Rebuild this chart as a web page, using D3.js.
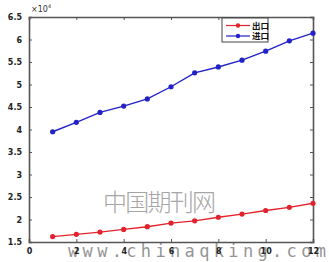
<!DOCTYPE html>
<html>
<head>
<meta charset="utf-8">
<script src="https://cdn.jsdelivr.net/npm/d3@7"></script>
<style>
  body { margin: 0; background: #fff; }
  svg { display: block; }
</style>
</head>
<body>
<div id="chart"></div>
<script>
const years = [1, 2, 3, 4, 5, 6, 7, 8, 9, 10, 11, 12];
const redValues = [1.62, 1.67, 1.72, 1.78, 1.84, 1.92, 1.97, 2.05, 2.12, 2.20, 2.27, 2.36];
const blueValues = [3.95, 4.16, 4.38, 4.52, 4.68, 4.95, 5.26, 5.39, 5.54, 5.74, 5.97, 6.14];
const seriesNames = ["出口", "进口"];
const xTicks = [0, 2, 4, 6, 8, 10, 12];
const yTicks = [1.5, 2, 2.5, 3, 3.5, 4, 4.5, 5, 5.5, 6, 6.5];

const width = 329, height = 262;
const margin = {top: 17, right: 16, bottom: 20, left: 29};

const svg = d3.select("#chart")
    .append("svg")
    .attr("width", width)
    .attr("height", height);

const x = d3.scaleLinear().domain([0, 12]).range([margin.left, width - margin.right]);
const y = d3.scaleLinear().domain([1.5, 6.5]).range([height - margin.bottom, margin.top]);

const axisColor = "#555";
const tickFont = "bold 8px 'DejaVu Sans', sans-serif";

// watermark texts (drawn first, behind the chart)
svg.append("text")
    .attr("x", 103).attr("y", 211)
    .style("font", "24px 'Noto Sans CJK SC', sans-serif")
    .style("font-weight", 300)
    .attr("fill", "#a5a5a5")
    .attr("textLength", 113)
    .text("中国期刊网");

svg.append("text")
    .attr("x", 68).attr("y", 257)
    .style("font", "17px 'DejaVu Sans Mono', monospace")
    .attr("fill", "#959595")
    .attr("textLength", 258)
    .text("www.chinaqking.com");

// axes, ticks pointing inward like matlab
const bottomAxis = svg.append("g")
    .attr("transform", `translate(0,${y(1.5)})`)
    .call(d3.axisBottom(x).tickValues(xTicks).tickSize(-3).tickPadding(6));
const topAxis = svg.append("g")
    .attr("transform", `translate(0,${y(6.5)})`)
    .call(d3.axisTop(x).tickValues(xTicks).tickSize(-3).tickFormat(""));
const leftAxis = svg.append("g")
    .attr("transform", `translate(${x(0)},0)`)
    .call(d3.axisLeft(y).tickValues(yTicks).tickSize(-3).tickPadding(7).tickFormat(d3.format("")));
const rightAxis = svg.append("g")
    .attr("transform", `translate(${x(12)},0)`)
    .call(d3.axisRight(y).tickValues(yTicks).tickSize(-3).tickFormat(""));

[bottomAxis, topAxis, leftAxis, rightAxis].forEach(a => {
    a.select(".domain").attr("stroke", axisColor).attr("stroke-width", 1.6);
    a.selectAll(".tick line").attr("stroke", axisColor);
    a.selectAll("text").style("font", tickFont).attr("fill", "#222");
});

// exponent label
const expLabel = svg.append("text")
    .attr("x", x(0) + 2)
    .attr("y", margin.top - 5)
    .style("font", "8px 'DejaVu Sans', sans-serif")
    .attr("fill", "#333");
expLabel.append("tspan").text("×10");
expLabel.append("tspan").attr("dy", -4).style("font-size", "5px").text("4");

const series = [
    {name: seriesNames[0], values: redValues, color: "#e3232c"},
    {name: seriesNames[1], values: blueValues, color: "#2222c8"}
];

const line = d3.line()
    .x((d, i) => x(years[i]))
    .y(d => y(d));

series.forEach(s => {
    svg.append("path")
        .datum(s.values)
        .attr("fill", "none")
        .attr("stroke", s.color)
        .attr("stroke-width", 1.4)
        .attr("d", line);
    svg.selectAll(null)
        .data(s.values)
        .enter()
        .append("circle")
        .attr("cx", (d, i) => x(years[i]))
        .attr("cy", d => y(d))
        .attr("r", 2.6)
        .attr("fill", s.color);
});

// legend
const legend = svg.append("g");
legend.append("rect")
    .attr("x", 222).attr("y", 18)
    .attr("width", 46).attr("height", 24)
    .attr("fill", "#fff")
    .attr("stroke", "#444")
    .attr("stroke-width", 1);
series.forEach((s, i) => {
    const ly = 25.5 + i * 10.5;
    legend.append("line")
        .attr("x1", 226).attr("x2", 250)
        .attr("y1", ly).attr("y2", ly)
        .attr("stroke", s.color).attr("stroke-width", 1.2);
    legend.append("circle")
        .attr("cx", 238).attr("cy", ly).attr("r", 2.2)
        .attr("fill", s.color);
    legend.append("text")
        .attr("x", 252).attr("y", ly + 3)
        .style("font", "bold 8.5px 'Noto Sans CJK SC', sans-serif")
        .attr("fill", "#111")
        .text(s.name);
});
</script>
</body>
</html>
